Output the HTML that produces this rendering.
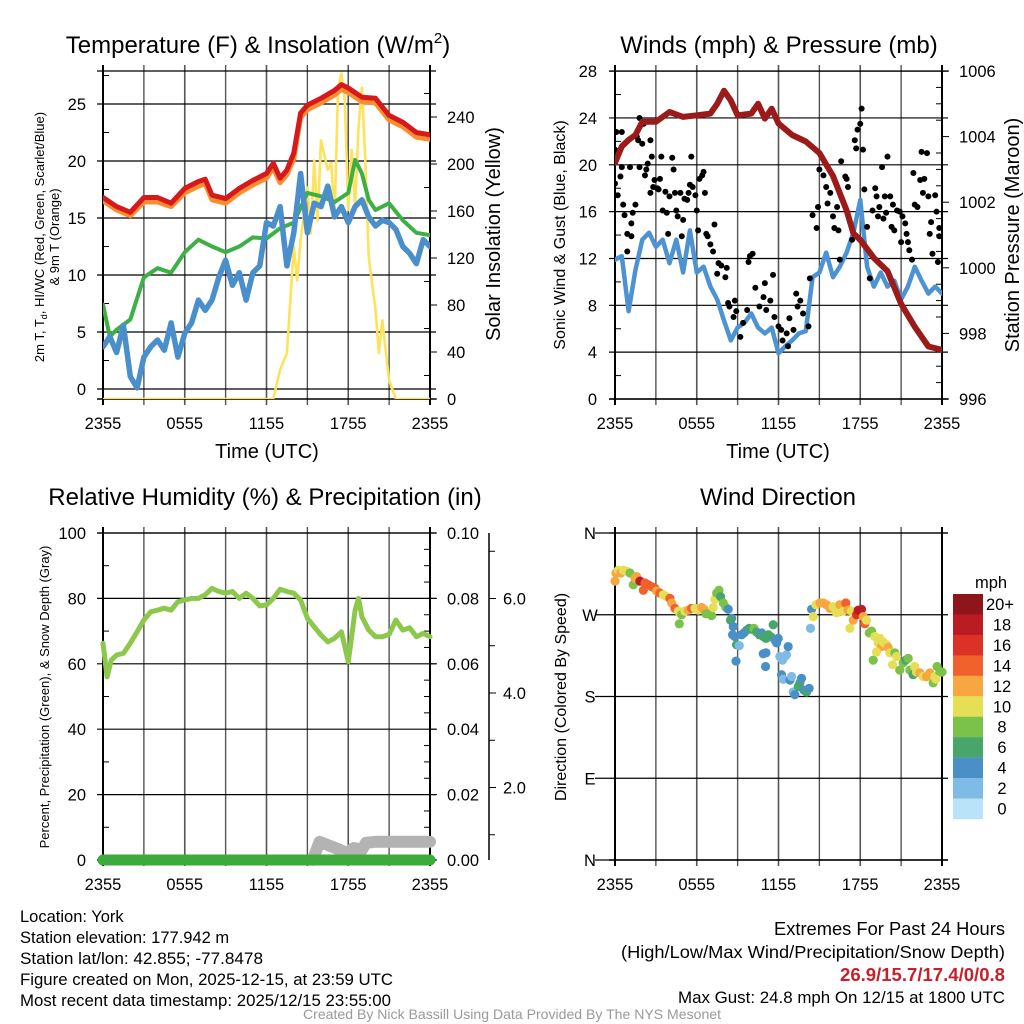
<!DOCTYPE html>
<html><head><meta charset="utf-8"><style>
html,body{margin:0;padding:0;background:#fff;}
svg{display:block;font-family:"Liberation Sans",Arial,sans-serif;}
</style></head><body>
<svg id="chart" width="1024" height="1024" viewBox="0 0 1024 1024" xmlns="http://www.w3.org/2000/svg">
<rect x="0" y="0" width="1024" height="1024" fill="#fff"/>
<g id="layer"></g>
<g font-size="16.5" fill="#000">
<text x="20" y="922">Location: York</text>
<text x="20" y="943">Station elevation: 177.942 m</text>
<text x="20" y="964" textLength="243" lengthAdjust="spacingAndGlyphs">Station lat/lon: 42.855; -77.8478</text>
<text x="20" y="985" textLength="373" lengthAdjust="spacingAndGlyphs">Figure created on Mon, 2025-12-15, at 23:59 UTC</text>
<text x="20" y="1006" textLength="371" lengthAdjust="spacingAndGlyphs">Most recent data timestamp: 2025/12/15 23:55:00</text>
<text x="1005" y="935" text-anchor="end" font-size="18" textLength="231" lengthAdjust="spacingAndGlyphs">Extremes For Past 24 Hours</text>
<text x="1005" y="958" text-anchor="end" font-size="17.5" textLength="384" lengthAdjust="spacingAndGlyphs">(High/Low/Max Wind/Precipitation/Snow Depth)</text>
<text x="1005" y="981" text-anchor="end" font-size="18.5" fill="#c8202a" font-weight="bold" textLength="165" lengthAdjust="spacingAndGlyphs">26.9/15.7/17.4/0/0.8</text>
<text x="1005" y="1003" text-anchor="end" font-size="17" textLength="327" lengthAdjust="spacingAndGlyphs">Max Gust: 24.8 mph On 12/15 at 1800 UTC</text>
<text x="512" y="1019" text-anchor="middle" font-size="14" textLength="418" lengthAdjust="spacingAndGlyphs" fill="#9a9a9a">Created By Nick Bassill Using Data Provided By The NYS Mesonet</text>
</g>
</svg>
<script>
// ---------- DATA ----------
const xTickHours = [0, 6, 12, 18, 24];
const xTickLabels = ["2355", "0555", "1155", "1755", "2355"];

// Panel 1: temperature
const tempTicks = [0, 5, 10, 15, 20, 25];
const insolTicks = [0, 40, 80, 120, 160, 200, 240];
const redTimes = [0,1,2,3,4,5,6,7,7.5,8,9,10,11,12,12.5,13,13.5,14,14.5,15,16,17,17.5,18,19,20,21,22,23,24];
const redTemp = [16.8,16.0,15.5,16.8,16.8,16.3,17.6,18.2,18.4,17.0,16.7,17.6,18.3,18.9,19.8,18.5,19.2,20.7,24.2,24.9,25.5,26.2,26.7,26.4,25.6,25.5,24.0,23.4,22.5,22.3];
const orangeTemp = [16.5,15.7,15.2,16.4,16.4,16.0,17.2,17.8,18.0,16.6,16.3,17.2,17.9,18.5,19.4,18.1,18.8,20.2,23.8,24.5,25.1,25.8,26.3,26.0,25.2,25.1,23.6,23.0,22.1,21.9];
const dewTimes = [0,0.5,1,2,3,4,5,6,7,8,9,10,11,12,13,14,15,16,17,18,18.5,19,19.5,20,21,22,23,24];
const dewTemp = [7.4,4.6,5.2,6.1,9.8,10.6,10.2,12.0,13.1,12.5,12.0,12.5,13.3,13.2,14.1,14.6,17.2,16.9,16.4,17.2,20.1,18.9,16.6,15.7,16.3,14.8,13.7,13.5];
const chillTemp = [3.7,4.6,3.2,5.6,1.1,0.1,2.8,3.7,4.3,3.4,5.8,2.8,4.9,5.8,7.8,6.9,7.8,9.8,11.3,9.1,10.2,7.8,10.2,10.8,14.6,14.3,16.0,10.8,13.7,18.9,13.7,16.3,16.0,17.8,15.1,16.0,14.6,16.0,16.6,15.1,14.3,14.8,14.6,14.0,12.5,11.9,11.0,13.1,12.5];
const insolTimes = [0,12.5,13,13.5,14,14.25,14.5,15,15.25,15.5,15.75,16,16.5,16.75,17,17.25,17.5,17.75,18,18.25,18.5,18.75,19,19.25,19.5,20,20.25,20.5,21,21.5,24];
const insolVals = [0,0,25,39,130,101,135,180,141,203,152,220,195,201,155,263,277,254,161,212,163,231,265,203,121,76,39,67,16,0,0];

// Panel 2: winds & pressure
const windTicks = [0, 4, 8, 12, 16, 20, 24, 28];
const presTicks = [996, 998, 1000, 1002, 1004, 1006];
const presTimes = [0,0.5,1,1.5,2,3,4,5,6,7,7.5,8,8.5,9,10,10.5,11,11.5,12,13,14,15,16,17,17.5,18,19,20,21,22,23,24];
const presVals = [1003.2,1003.7,1003.9,1004.05,1004.45,1004.45,1004.75,1004.6,1004.65,1004.7,1005.0,1005.4,1005.1,1004.65,1004.7,1005.0,1004.55,1004.85,1004.4,1004.05,1003.85,1003.5,1002.8,1001.75,1001.05,1000.85,1000.3,999.9,998.9,998.2,997.6,997.5];
const windSpeed = [11.9,12.2,7.5,11.0,13.6,14.2,13.0,13.6,11.6,13.6,10.8,14.4,10.8,11.3,9.6,8.5,6.7,5.0,6.1,6.5,7.3,6.1,5.6,6.1,3.9,4.5,5.0,5.6,5.8,10.4,10.8,12.5,10.4,11.3,12.5,14.2,17.0,11.3,9.6,10.8,9.6,10.1,8.5,9.6,11.3,10.1,9.0,9.6,9.0];
const gustTimes = [0,0.1,0.5,0,0.4,0.2,0.5,0.6,0.7,0.9,0.9,1.1,1.2,1.2,1.3,1.5,1.6,1.7,1.8,2.0,1.8,2.1,2.2,2.3,2.4,2.6,2.6,2.7,2.8,2.9,3.1,3.2,3.3,3.4,3.5,3.7,3.8,3.9,4.0,4.2,4.3,4.4,4.5,4.6,4.8,4.9,5.0,5.1,5.3,5.4,5.5,5.6,5.7,5.9,6.0,6.1,6.2,6.4,6.5,6.6,6.7,6.8,7.0,7.2,7.3,7.5,7.6,7.8,8.1,8.2,8.3,8.4,8.7,8.8,8.9,9.2,9.4,9.7,9.8,9.9,10.1,10.3,10.6,10.9,11.0,11.1,11.4,11.6,11.7,12.0,12.2,12.3,12.6,12.7,12.8,13.1,13.3,13.4,13.6,13.8,14.2,14.3,14.5,14.8,14.9,15.0,15.3,15.5,15.6,15.8,16.0,16.1,16.3,16.4,16.5,16.6,16.9,17.0,17.1,17.4,17.6,17.7,17.8,18.0,18.1,18.2,18.3,18.5,18.7,18.9,19.1,19.2,19.3,19.4,19.6,19.7,19.8,19.9,20.0,20.2,20.3,20.4,20.5,20.7,20.9,21.0,21.1,21.3,21.4,21.5,21.6,21.8,21.9,22.0,22.2,22.4,22.5,22.6,22.7,22.9,23.0,23.1,23.2,23.3,23.5,23.6,23.7,23.8,23.8];
const gustVals = [21.3,22.8,22.8,18.4,19.0,17.4,19.8,16.6,15.7,14.1,12.6,19.8,13.9,15.0,15.9,16.6,22.4,22.1,24.0,21.8,19.8,23.5,19.1,19.6,20.1,22.1,17.6,20.7,18.1,18.7,18.0,17.9,18.8,20.7,16.1,17.7,15.9,14.1,17.3,20.6,19.6,17.6,16.1,15.6,17.6,13.9,15.3,17.1,17.0,17.6,18.3,20.7,18.1,17.4,16.1,14.4,18.8,19.1,19.4,17.6,14.1,13.9,13.2,12.6,14.9,10.7,11.6,11.4,10.4,11.2,8.2,7.9,7.0,8.4,7.5,5.3,6.5,7.6,11.7,12.2,12.4,9.5,7.9,8.7,9.9,7.6,8.4,10.6,7.0,6.2,5.9,5.0,5.6,4.5,6.9,5.9,9.0,7.9,8.4,7.3,6.2,10.3,15.7,14.6,16.4,19.6,19.1,18.1,16.7,17.6,15.6,14.6,16.4,14.4,11.9,20.3,19.0,18.8,18.1,13.6,22.1,21.4,23.0,23.5,24.8,21.3,17.9,14.7,10.3,16.1,18.0,17.3,15.6,16.4,19.8,15.4,17.3,15.9,20.7,17.3,14.7,16.6,14.4,16.1,16.0,13.4,15.6,15.0,14.1,13.4,12.7,11.9,19.3,16.6,16.4,18.7,21.1,17.6,18.8,21.0,17.3,14.1,15.1,12.4,17.4,16.0,11.7,13.9,14.6];

// Panel 3: RH, precip, snow depth
const rhTicks = [0, 20, 40, 60, 80, 100];
const precipTickLabels = ["0.00", "0.02", "0.04", "0.06", "0.08", "0.10"];
const precipTicks = [0, 0.02, 0.04, 0.06, 0.08, 0.10];
const depthTicks = [2, 4, 6];
const rhTimes = [0,0.3,0.6,1,1.5,2,2.5,3,3.5,4,4.5,5,5.5,6,6.5,7,7.5,8,8.5,9,9.5,10,10.5,11,11.5,12,12.5,13,13.5,14,14.5,15,15.5,16,16.5,17,17.5,18,18.5,18.75,19,19.5,20,20.5,21,21.5,22,22.5,23,23.5,24];
const rhVals = [66.3,56,61.1,62.7,63.2,66.3,69.8,73.4,75.9,76.4,77.0,76.4,79,79.5,80,80,81.1,83.1,82.1,81.6,82.1,80,81.6,80,77.7,78,80,82.8,82.1,81.6,79.5,73.9,71.3,68.8,66.7,67.8,69.8,60.6,76.4,80,74.4,70.3,68.3,68.3,69,73.4,70.3,71,68.3,69.3,68.3];
const precipTimes = [0, 24];
const precipVals = [0, 0];
const depthTimes = [15.4,15.9,16.5,17.4,17.9,18.4,19.0,19.3,20,24];
const depthVals = [0.47,0.85,0.78,0.68,0.61,0.72,0.68,0.83,0.85,0.85];

// Panel 4: wind direction
const dirTickDeg = [0, 90, 180, 270, 360];
const dirTickLabels = ["N", "E", "S", "W", "N"];
const dirTimes = [0,0.07,0.24,0.42,0.61,0.86,1.10,1.34,1.47,1.59,1.83,2.08,2.20,2.44,2.69,2.93,3.06,3.30,3.55,3.79,4.03,4.16,4.40,4.65,4.89,4.72,5.13,5.38,5.62,5.87,6.11,6.36,6.53,6.67,6.85,7.09,7.21,7.33,7.46,7.63,7.75,7.95,8.14,8.31,8.56,8.48,8.68,8.63,8.80,8.92,9.12,9.29,9.46,9.66,9.85,10.02,10.20,10.39,10.59,10.76,10.88,11.08,11.25,11.42,11.61,11.74,11.86,11.98,11.08,10.88,8.88,11.05,12.10,12.30,12.47,12.59,12.71,12.22,12.35,12.84,12.96,13.08,13.20,13.45,13.57,13.69,13.86,14.06,14.25,14.35,14.43,14.55,14.74,15.04,15.28,15.53,15.77,16.01,16.26,16.50,16.75,16.94,17.11,17.36,17.24,17.48,17.73,17.85,18.09,18.22,18.34,18.46,18.66,18.83,19.07,19.32,19.44,19.56,19.68,19.93,20.05,20.17,20.37,20.54,20.66,20.90,21.15,21.34,21.52,21.64,21.88,22.00,22.13,22.37,22.62,22.86,23.11,23.35,23.47,23.64,23.84,24.0,18.95,19.19,23.55];
const dirDeg = [307,316,319,316,319,318,316,303,310,312,307,297,305,303,301,299,296,294,292,290,288,283,277,274,270,260,274,275,277,277,275,278,276,271,271,269,278,287,294,297,290,283,278,276,266,264,257,248,246,237,236,248,250,253,255,254,255,251,248,250,246,244,248,246,259,242,239,244,228,227,219,213,224,220,224,226,235,204,199,198,202,185,182,191,195,200,187,185,189,255,276,268,281,283,283,281,277,279,272,281,274,283,275,274,255,264,270,275,276,268,260,264,250,252,246,239,244,235,240,237,234,228,215,228,224,209,217,220,222,209,204,213,207,206,202,202,206,195,202,213,207,207,220,229,199];
const dirSpeed = [12,12,10,12,10,10,8,8,12,12,18,14,14,14,14,14,12,14,10,10,14,12,14,10,8,8,10,12,14,10,10,12,12,8,8,8,10,10,8,8,6,8,8,4,4,6,4,4,4,6,2,4,4,4,6,6,8,6,6,4,6,6,6,6,6,4,4,4,4,4,4,4,2,2,2,2,4,4,2,4,2,2,4,6,6,4,4,6,4,2,4,10,10,12,12,12,12,10,10,12,10,14,12,10,10,12,16,18,18,12,14,10,8,8,10,10,10,12,10,10,12,10,10,8,10,8,8,6,8,8,6,10,10,12,10,12,12,8,10,8,8,8,8,10,10];
const speedBinLabels = ["20+","18","16","14","12","10","8","6","4","2","0"];
const speedBinColors = ["#8e1519","#bb1c24","#dc3127","#f0612b","#f7a640","#e6df55","#7bc24a","#48a66c","#4a8fc6","#7ebbe5","#b8e3f8"];

// ---------- DRAWING ----------
const NS = "http://www.w3.org/2000/svg";
const layer = document.getElementById("layer");
const TICKFONT = 16.5;
function mk(tag, attrs, parent) {
  const e = document.createElementNS(NS, tag);
  for (const k in attrs) e.setAttribute(k, attrs[k]);
  (parent || layer).appendChild(e);
  return e;
}
function txt(s, attrs, parent) { const e = mk("text", attrs, parent); e.textContent = s; return e; }
function linePath(times, vals, sx, sy) {
  return times.map((t, i) => (i ? "L" : "M") + sx(t).toFixed(1) + " " + sy(vals[i]).toFixed(1)).join(" ");
}

function makePanel(name, x0, x1, y0, y1) {
  const g = mk("g", {});
  
  
  const sx = h => x0 + (h / 24) * (x1 - x0);
  for (let h = 0; h <= 24; h += 3) {
    const l = mk("line", {x1: sx(h), x2: sx(h), y1: y0 - 6, y2: y1 + 6, stroke: "#555", "stroke-width": (h % 6 === 0 ? 1.6 : 1.4)}, g);
    
    
  }
  xTickHours.forEach((h, i) => {
    const t = txt(xTickLabels[i], {x: sx(h), y: y1 + 30, "text-anchor": "middle", "font-size": TICKFONT}, g);
    
    
  });
  return {g, sx, x0, x1, y0, y1};
}
function hgrid(p, y, ext) {
  const l = mk("line", {x1: p.x0 - (ext || 6), x2: p.x1 + 6, y1: y, y2: y, stroke: "#000", "stroke-width": 1.2}, p.g);
  
  
}
function frame(p) {
  const l1 = mk("line", {x1: p.x0, x2: p.x0, y1: p.y0 - 6, y2: p.y1 + 6, stroke: "#000", "stroke-width": 2}, p.g);
  
  
  const l2 = mk("line", {x1: p.x1, x2: p.x1, y1: p.y0 - 6, y2: p.y1 + 6, stroke: "#000", "stroke-width": 2}, p.g);
  
  
  const l3 = mk("line", {x1: p.x0 - 6, x2: p.x1 + 6, y1: p.y0, y2: p.y0, stroke: "#000", "stroke-width": 1.2}, p.g);
  
  
  const l4 = mk("line", {x1: p.x0 - 6, x2: p.x1 + 6, y1: p.y1, y2: p.y1, stroke: "#000", "stroke-width": 1.6}, p.g);
  
  
}
function minorTicks(p, x, dir, ys) {
  ys.forEach(y => {
    const l = mk("line", {x1: x, x2: x + dir * 6, y1: y, y2: y, stroke: "#000", "stroke-width": 1}, p.g);
    
    
  });
}
function title(s, x, y, name) {
  const t = txt(s, {x, y, "text-anchor": "middle", "font-size": 24});
  
  
  return t;
}
function vlabel(s, x, y, size, name) {
  const t = txt(s, {x: 0, y: 0, "text-anchor": "middle", "font-size": size, transform: `translate(${x},${y}) rotate(-90)`});
  
  
  return t;
}
function series(p, d, color, w, name, extra) {
  const a = {d, fill: "none", stroke: color, "stroke-width": w, "stroke-linejoin": "round", "stroke-linecap": "round"};
  if (extra) Object.assign(a, extra);
  const e = mk("path", a, p.g);
  
  
  return e;
}

// ===== Panel 1 =====
(function () {
  const p = makePanel("temperature-panel", 103, 430, 71, 399);
  const sy = T => 389 - T * 11.4;
  const syI = I => 399 - I * 1.175;
  tempTicks.forEach(v => {
    hgrid(p, sy(v));
    const t = txt(String(v), {x: 86, y: sy(v) + 6, "text-anchor": "end", "font-size": TICKFONT}, p.g);
    
    
  });
  minorTicks(p, p.x0, 1, tempTicks.slice(0, 5).map(v => sy(v + 2.5)).concat([sy(27.5)]));
  insolTicks.forEach(v => {
    const l = mk("line", {x1: p.x1, x2: p.x1 + 7, y1: syI(v), y2: syI(v), stroke: "#000", "stroke-width": 1}, p.g);
    
    
    const t = txt(String(v), {x: 447, y: syI(v) + 6, "font-size": TICKFONT}, p.g);
    
    
  });
  minorTicks(p, p.x1, -1, insolTicks.map(v => syI(v + 20)).filter(y => y > p.y0));
  frame(p);
  const clip = mk("clipPath", {id: "c1"}, p.g); mk("rect", {x: p.x0, y: p.y0, width: p.x1 - p.x0, height: p.y1 - p.y0}, clip);
  const cg = mk("g", {"clip-path": "url(#c1)"}, p.g);
  const q = {g: cg};
  series(q, linePath(insolTimes, insolVals, p.sx, syI), "#fde25a", 2.6, "insolation-line");
  series(q, linePath(dewTimes, dewTemp, p.sx, sy), "#3cb043", 4, "dewpoint-line");
  series(q, linePath(chillTemp.map((_, i) => i * 0.5), chillTemp, p.sx, sy), "#4a8fcc", 5.5, "windchill-line");
  series(q, linePath(redTimes, orangeTemp, p.sx, sy), "#f98e2f", 5, "temp-9m-line");
  series(q, linePath(redTimes, redTemp, p.sx, sy), "#d7191c", 5, "temp-2m-line");
  const tt = title("Temperature (F) & Insolation (W/m", 258, 53, "temperature-title");
  const sup = mk("tspan", {dy: -10, "font-size": 15}, tt); sup.textContent = "2";
  const cl = mk("tspan", {dy: 10}, tt); cl.textContent = ")";
  const xl = txt("Time (UTC)", {x: 267, y: 458, "text-anchor": "middle", "font-size": 20}, p.g);
  
  
  const yl = vlabel("2m T, T", 44, 237, 13, "temp-y-axis-title");
  const sub = mk("tspan", {dy: 3, "font-size": 9}, yl); sub.textContent = "d";
  const rest = mk("tspan", {dy: -3}, yl); rest.textContent = ", HI/WC (Red, Green, Scarlet/Blue)";
  vlabel("& 9m T (Orange)", 59, 237, 13, "temp-y-axis-title-line2");
  vlabel("Solar Insolation (Yellow)", 500, 234, 20, "insolation-y-axis-title");
})();

// ===== Panel 2 =====
(function () {
  const p = makePanel("winds-panel", 615, 942, 71, 399);
  const sy = v => 399 - v * 11.71;
  const syP = v => 399 - (v - 996) * 32.8;
  windTicks.forEach(v => {
    hgrid(p, sy(v));
    const t = txt(String(v), {x: 597, y: sy(v) + 6, "text-anchor": "end", "font-size": TICKFONT}, p.g);
    
    
  });
  minorTicks(p, p.x0, 1, windTicks.slice(0, 7).map(v => sy(v + 2)));
  presTicks.forEach(v => {
    const l = mk("line", {x1: p.x1, x2: p.x1 + 7, y1: syP(v), y2: syP(v), stroke: "#000", "stroke-width": 1}, p.g);
    
    
    const t = txt(String(v), {x: 959, y: syP(v) + 6, "font-size": TICKFONT}, p.g);
    
    
  });
  minorTicks(p, p.x1, -1, [996.5,997,997.5,998.5,999,999.5,1000.5,1001,1001.5,1002.5,1003,1003.5,1004.5,1005,1005.5].map(syP));
  frame(p);
  const clip = mk("clipPath", {id: "c2"}, p.g); mk("rect", {x: p.x0, y: p.y0, width: p.x1 - p.x0, height: p.y1 - p.y0}, clip);
  const cg = mk("g", {"clip-path": "url(#c2)"}, p.g);
  const q = {g: cg};
  series(q, linePath(windSpeed.map((_, i) => i * 0.5), windSpeed, p.sx, sy), "#4d93d2", 4.5, "sonic-wind-line");
  gustTimes.forEach((t, i) => {
    const c = mk("circle", {cx: p.sx(t), cy: sy(gustVals[i]), r: 3, fill: "#000"}, cg);
    
    
  });
  series(q, linePath(presTimes, presVals, p.sx, syP), "#9b1b1b", 6, "pressure-line");
  title("Winds (mph) & Pressure (mb)", 779, 53, "winds-title");
  const xl = txt("Time (UTC)", {x: 778, y: 458, "text-anchor": "middle", "font-size": 20}, p.g);
  
  
  vlabel("Sonic Wind & Gust (Blue, Black)", 565, 235, 16, "wind-y-axis-title");
  vlabel("Station Pressure (Maroon)", 1019, 235, 20, "pressure-y-axis-title");
})();

// ===== Panel 3 =====
(function () {
  const p = makePanel("humidity-panel", 103, 430, 533, 860);
  const sy = v => 860 - v * 3.27;
  const syPr = v => 860 - v * 3270;
  const syD = v => 882 - v * 47.25;
  rhTicks.forEach(v => {
    hgrid(p, sy(v));
    const t = txt(String(v), {x: 86, y: sy(v) + 6, "text-anchor": "end", "font-size": TICKFONT}, p.g);
    
    
  });
  minorTicks(p, p.x0, 1, rhTicks.slice(0, 5).map(v => sy(v + 10)));
  precipTicks.forEach((v, i) => {
    const l = mk("line", {x1: p.x1, x2: p.x1 + 7, y1: syPr(v), y2: syPr(v), stroke: "#000", "stroke-width": 1}, p.g);
    
    
    const t = txt(precipTickLabels[i], {x: 447, y: syPr(v) + 6, "font-size": TICKFONT}, p.g);
    
    
  });
  minorTicks(p, p.x1, -1, [0.005,0.01,0.015,0.025,0.03,0.035,0.045,0.05,0.055,0.065,0.07,0.075,0.085,0.09,0.095].map(syPr));
  frame(p);
  const ax = mk("line", {x1: 489, x2: 489, y1: 533, y2: 860, stroke: "#000", "stroke-width": 1.5}, p.g);
  
  
  depthTicks.forEach(v => {
    const l = mk("line", {x1: 489, x2: 496, y1: syD(v), y2: syD(v), stroke: "#000", "stroke-width": 1}, p.g);
    
    
    const t = txt(v.toFixed(1), {x: 503, y: syD(v) + 6, "font-size": TICKFONT}, p.g);
    
    
  });
  [0, 1, 3, 5, 7].forEach(v => {
    const y = syD(v);
    if (y < 860 && y > 533) {
      const l = mk("line", {x1: 489, x2: 495, y1: y, y2: y, stroke: "#000", "stroke-width": 1}, p.g);
      
      
    }
  });
  const clip = mk("clipPath", {id: "c3"}, p.g); mk("rect", {x: p.x0 - 10, y: p.y0, width: p.x1 - p.x0 + 20, height: p.y1 - p.y0 + 8}, clip);
  const cg = mk("g", {"clip-path": "url(#c3)"}, p.g);
  const q = {g: cg};
  series(q, linePath(rhTimes, rhVals, p.sx, sy), "#8cc84b", 5, "rh-line");
  series(q, linePath(depthTimes, depthVals, p.sx, syD), "#b3b3b3", 12, "snow-depth-line");
  series(q, linePath(precipTimes, precipVals, p.sx, syPr), "#3cab3c", 11, "precip-line");
  title("Relative Humidity (%) & Precipitation (in)", 265, 505, "humidity-title");
  vlabel("Percent, Precipitation (Green), & Snow Depth (Gray)", 49, 697, 13, "humidity-y-axis-title");
})();

// ===== Panel 4 =====
(function () {
  const p = makePanel("wind-direction-panel", 615, 942, 533, 860);
  const sy = d => 860 - d * (327 / 360);
  dirTickDeg.forEach((d, i) => {
    hgrid(p, sy(d), 20);
    const t = txt(dirTickLabels[i], {x: 590, y: sy(d) + 6, "text-anchor": "middle", "font-size": TICKFONT}, p.g);
    
    
  });
  frame(p);
  dirTimes.forEach((t, i) => {
    const bin = Math.min(10, Math.floor(dirSpeed[i] / 2));
    const c = mk("circle", {cx: p.sx(t), cy: sy(dirDeg[i]), r: 4.6, fill: speedBinColors[10 - bin]}, p.g);
    
    
  });
  title("Wind Direction", 778, 505, "wind-direction-title");
  vlabel("Direction (Colored By Speed)", 566, 697, 16, "direction-y-axis-title");
  const cb = mk("g", {});
  
  
  const mt = txt("mph", {x: 975, y: 588, "font-size": TICKFONT}, cb);
  
  
  speedBinLabels.forEach((lab, i) => {
    const y = 594 + i * 20.45;
    const r = mk("rect", {x: 953, y: y, width: 30, height: 20.6, fill: speedBinColors[i]}, cb);
    
    
    const t = txt(lab, {x: lab === "20+" ? 986 : 1002, y: y + 16, "font-size": TICKFONT, "text-anchor": lab === "20+" ? "start" : "middle"}, cb);
    
    
  });
})();
</script>
</body></html>
